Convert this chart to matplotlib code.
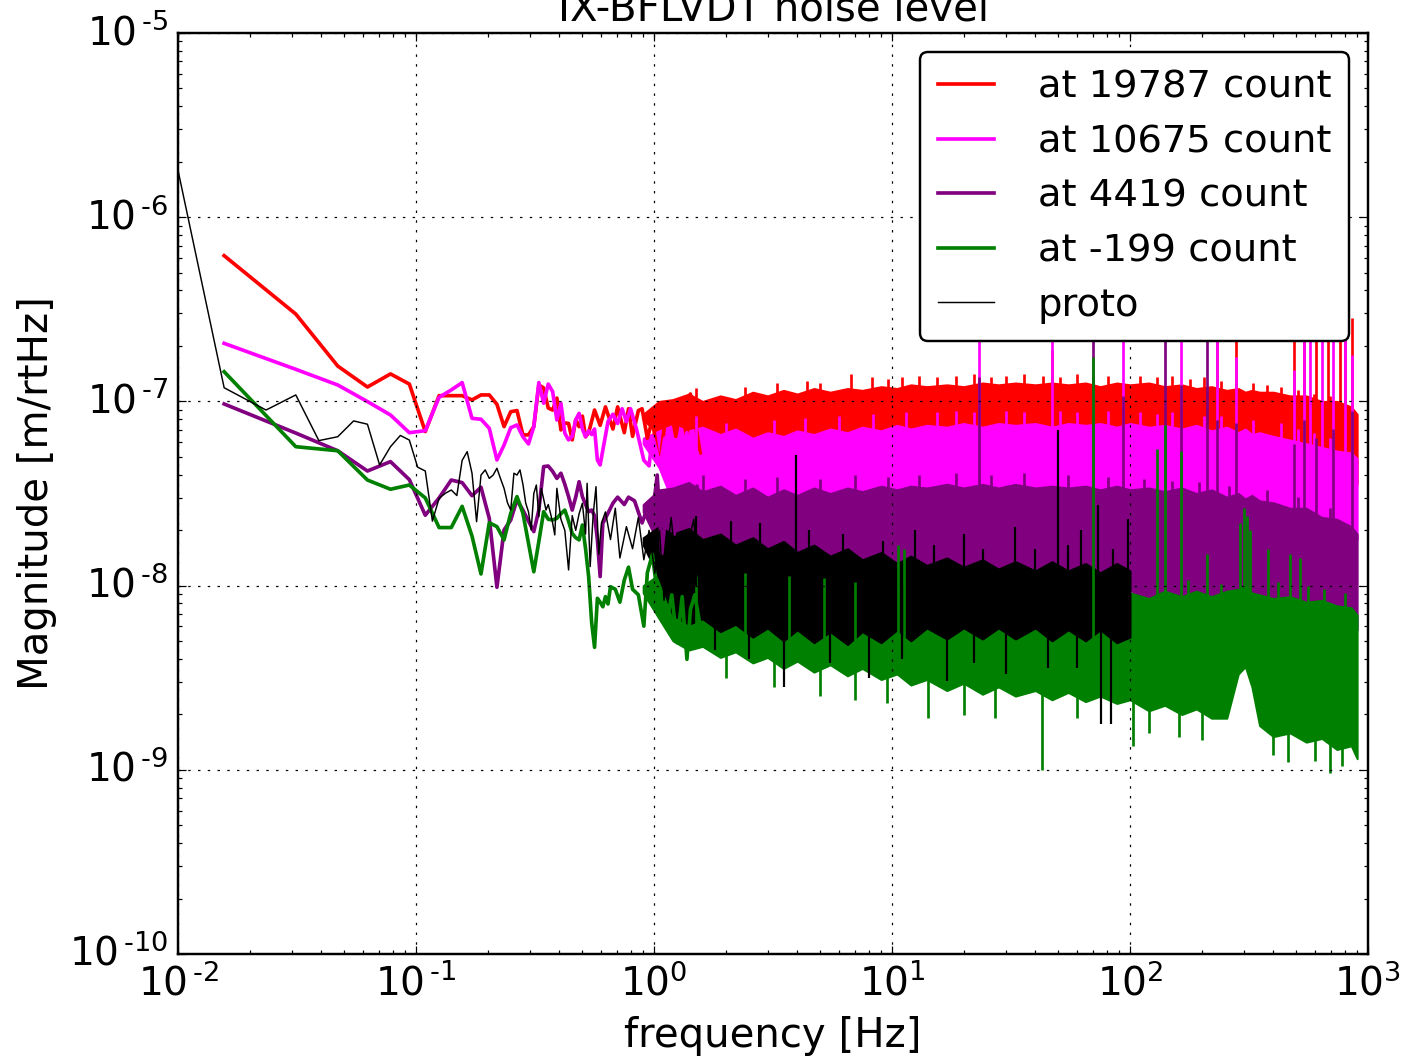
import numpy as np
import matplotlib
matplotlib.use("Agg")
import matplotlib.pyplot as plt
from matplotlib.ticker import FuncFormatter, NullFormatter

plt.style.use('classic')
plt.rcParams['font.family'] = ['DejaVu Sans']
plt.rcParams['font.size'] = 16
plt.rcParams['mathtext.fontset'] = 'dejavusans'

# FFT bin widths (Hz)
DF = 1.0 / 64
DF_PROTO = 1.0 / 128

# --- low frequency part: bin index -> log10 magnitude [m/rtHz] ---
red_bin = list(range(1, 35)) + [36, 38, 40, 43, 45, 48, 50, 52, 55, 57, 60,
                                63, 66, 68, 71, 75, 79, 83, 88, 91, 95, 100]
red_lg = [-6.209, -6.526, -6.808, -6.922, -6.851, -6.906, -7.164, -6.969, -6.969, -6.969,
          -6.992, -6.965, -6.965, -7.016, -7.137, -7.056, -7.050, -7.182, -7.182, -7.137,
          -6.911, -6.927, -7.036, -7.047, -6.982, -7.155, -7.117, -7.120, -7.209, -7.100,
          -7.137, -7.080, -7.192, -7.170,
          -7.047, -7.13, -7.03, -7.15, -7.03, -7.17, -7.04, -7.19, -7.05, -7.04, -7.20,
          -7.10, -7.28, -7.32, -7.12, -7.03, -7.19, -7.02, -7.20, -6.96, -7.10, -7.28]

mag_bin = list(range(1, 39)) + [41, 43, 45, 47, 49, 51, 54, 58, 61, 63, 68,
                                71, 75, 80, 83, 88, 91, 95, 100]
mag_lg = [-6.685, -6.826, -6.911, -7.001, -7.074, -7.170, -7.159, -6.978, -6.938, -6.898,
          -7.092, -7.097, -7.146, -7.318, -7.237, -7.143, -7.128, -7.192, -7.231, -7.137,
          -6.898, -7.010, -6.906, -6.947, -7.101, -7.010, -7.173, -7.209, -7.190, -7.100,
          -7.065, -7.150, -7.192, -7.160, -7.180, -7.150, -7.318, -7.345,
          -7.11, -7.07, -7.12, -7.04, -7.11, -7.04, -7.15, -7.32, -7.35, -7.19, -7.35,
          -7.20, -7.21, -7.445, -7.28, -7.17, -7.41, -7.25, -7.32]

pur_bin = list(range(1, 40)) + [41, 43, 45, 48, 50, 53, 57, 60, 63, 66, 69,
                                72, 74, 78, 80, 84, 88, 92, 97, 100]
pur_lg = [-7.014, -7.172, -7.268, -7.378, -7.327, -7.425, -7.618, -7.524, -7.427, -7.441,
          -7.512, -7.466, -7.635, -8.009, -7.698, -7.644, -7.535, -7.590, -7.650, -7.707,
          -7.590, -7.354, -7.351, -7.380, -7.418, -7.390, -7.450, -7.517, -7.590, -7.520,
          -7.436, -7.517, -7.560, -7.599, -7.590, -7.620, -7.750, -7.951, -7.662,
          -7.607, -7.553, -7.52, -7.56, -7.52, -7.54, -7.66, -7.58, -7.62, -7.40, -7.825,
          -7.59, -7.53, -7.72, -7.50, -7.63, -7.60, -7.68, -7.46, -7.65]

grn_bin = list(range(1, 43)) + [44, 46, 48, 50, 52, 55, 58, 60, 63, 66, 68,
                                70, 73, 76, 80, 84, 88, 91, 95, 100]
grn_lg = [-6.839, -7.246, -7.268, -7.427, -7.477, -7.454, -7.524, -7.685, -7.685, -7.570,
          -7.731, -7.937, -7.659, -7.680, -7.752, -7.607, -7.517, -7.607, -7.770, -7.925,
          -7.760, -7.599, -7.640, -7.644, -7.635, -7.610, -7.590, -7.650, -7.717, -7.740,
          -7.752, -7.671, -7.800, -7.951, -8.200, -8.335, -8.069, -8.090, -8.115, -8.060,
          -8.100, -8.006,
          -8.02, -8.09, -7.97, -7.90, -8.02, -8.05, -8.22, -7.93, -7.83, -8.04, -8.15,
          -8.08, -8.17, -8.05, -8.31, -8.06, -8.40, -8.13, -8.05, -8.22]

pro_bin = list(range(1, 51)) + [52, 54, 56, 58, 60, 62, 64, 66, 67, 69, 71, 73, 75, 77,
                                80, 84, 88, 92, 98, 104, 110, 116, 122, 129, 135, 141,
                                146, 151, 158, 164, 170, 176, 182, 188, 196]
pro_lg = [-5.093, -6.926, -7.047, -6.965, -7.213, -7.192, -7.106, -7.124, -7.345, -7.246,
          -7.185, -7.210, -7.357, -7.378, -7.650, -7.526, -7.499, -7.481, -7.511, -7.320,
          -7.273, -7.390, -7.653, -7.400, -7.372, -7.418, -7.400, -7.363, -7.420, -7.472,
          -7.550, -7.590, -7.390, -7.400, -7.372, -7.450, -7.553, -7.600, -7.698, -7.500,
          -7.454, -7.626, -7.472, -7.530, -7.590, -7.560, -7.607, -7.660, -7.725, -7.472,
          -7.64, -7.70, -7.915, -7.62, -7.70, -7.61, -7.553, -7.72, -7.445, -7.897,
          -7.62, -7.463, -7.83, -7.66, -7.60, -7.75, -7.58, -7.85, -7.68, -7.80,
          -7.63, -7.86, -7.70, -7.93, -7.70, -8.08, -7.80, -7.63, -7.88, -8.04,
          -7.75, -7.90, -7.72, -7.64, -7.95]

# --- dense part above ~1 Hz: envelope of the noise floor (log10) ---
band_f = [0.9, 1.05, 1.2, 1.4, 1.6, 1.9, 2.2, 2.6, 3.0, 3.5, 4.0, 4.7,
          5.5, 6.5, 7.5, 9, 10.5, 12, 14, 17, 20, 24,
          28, 33, 40, 47, 55, 65, 75, 88, 100, 120,
          140, 165, 190, 220, 255, 285, 305, 325, 350, 400,
          470, 550, 640, 740, 850, 900]

red_hi = [-7.07, -7.00,
          -6.99, -6.96, -7.00, -6.97, -6.99, -6.95, -6.97, -6.94, -6.96, -6.93,
          -6.95, -6.93, -6.94, -6.92, -6.93, -6.91, -6.92, -6.91, -6.92, -6.90,
          -6.91, -6.90, -6.91, -6.90, -6.91, -6.90, -6.92, -6.90, -6.91, -6.90,
          -6.92, -6.91, -6.93, -6.92, -6.94, -6.93, -6.95, -6.94, -6.95, -6.95,
          -6.97, -6.97, -7.00, -7.00, -7.03, -7.07]
red_lo = [-7.10, -7.18,
          -7.30, -7.27, -7.32, -7.29, -7.34, -7.30, -7.35, -7.31, -7.33, -7.30,
          -7.32, -7.29, -7.31, -7.28, -7.30, -7.27, -7.29, -7.27, -7.29, -7.27,
          -7.28, -7.27, -7.29, -7.27, -7.28, -7.27, -7.29, -7.27, -7.28, -7.27,
          -7.29, -7.28, -7.30, -7.29, -7.32, -7.30, -7.33, -7.31, -7.33, -7.32,
          -7.36, -7.35, -7.40, -7.38, -7.42, -7.45]

mag_hi = [-7.20, -7.16,
          -7.13, -7.16, -7.14, -7.18, -7.15, -7.20, -7.17, -7.19, -7.16, -7.18,
          -7.15, -7.17, -7.14, -7.16, -7.13, -7.15, -7.13, -7.14, -7.12, -7.14,
          -7.12, -7.13, -7.12, -7.14, -7.12, -7.13, -7.12, -7.14, -7.12, -7.14,
          -7.13, -7.15, -7.13, -7.16, -7.14, -7.17, -7.15, -7.18, -7.17, -7.19,
          -7.21, -7.23, -7.25, -7.27, -7.28, -7.31]
mag_lo = [-7.23, -7.36,
          -7.55, -7.51, -7.57, -7.53, -7.59, -7.54, -7.57, -7.53, -7.56, -7.52,
          -7.54, -7.51, -7.53, -7.50, -7.52, -7.49, -7.51, -7.49, -7.51, -7.49,
          -7.50, -7.49, -7.51, -7.49, -7.50, -7.49, -7.51, -7.49, -7.51, -7.50,
          -7.52, -7.50, -7.53, -7.51, -7.55, -7.52, -7.56, -7.53, -7.57, -7.58,
          -7.62, -7.63, -7.68, -7.68, -7.72, -7.75]

pur_hi = [-7.56, -7.48,
          -7.47, -7.44, -7.49, -7.46, -7.51, -7.47, -7.52, -7.48, -7.51, -7.47,
          -7.50, -7.47, -7.49, -7.46, -7.48, -7.46, -7.47, -7.45, -7.47, -7.45,
          -7.47, -7.45, -7.47, -7.46, -7.47, -7.46, -7.48, -7.46, -7.48, -7.47,
          -7.49, -7.47, -7.50, -7.48, -7.52, -7.50, -7.53, -7.51, -7.54, -7.55,
          -7.58, -7.58, -7.63, -7.64, -7.68, -7.72]
pur_lo = [-7.60, -7.78,
          -7.98, -7.95, -8.01, -7.97, -8.02, -7.98, -8.03, -7.98, -8.01, -7.97,
          -8.00, -7.97, -7.99, -7.96, -7.99, -7.96, -7.98, -7.96, -7.98, -7.96,
          -7.98, -7.96, -7.98, -7.96, -7.99, -7.97, -7.99, -7.98, -8.02, -8.12,
          -8.15, -8.13, -8.16, -8.14, -8.17, -8.15, -8.17, -8.16, -8.18, -8.17,
          -8.19, -8.18, -8.20, -8.20, -8.22, -8.24]

grn_hi = [-8.00, -7.94,
          -7.93, -7.97, -7.95, -8.01, -7.97, -8.03, -7.99, -8.04, -8.00, -8.05,
          -8.01, -8.06, -8.03, -8.08, -8.05, -8.10, -8.07, -8.12, -8.08, -8.13,
          -8.09, -8.12, -8.08, -8.11, -8.07, -8.10, -8.06, -8.09, -8.04, -8.07,
          -8.03, -8.06, -8.03, -8.06, -8.03, -8.02, -8.00, -8.04, -8.05, -8.07,
          -8.06, -8.09, -8.08, -8.11, -8.12, -8.16]
grn_lo = [-8.04, -8.18,
          -8.30, -8.35, -8.33, -8.39, -8.36, -8.42, -8.39, -8.45, -8.41, -8.47,
          -8.43, -8.49, -8.45, -8.51, -8.48, -8.54, -8.51, -8.57, -8.53, -8.59,
          -8.55, -8.60, -8.57, -8.62, -8.58, -8.63, -8.60, -8.64, -8.62, -8.68,
          -8.65, -8.70, -8.67, -8.72, -8.72, -8.48, -8.44, -8.55, -8.76, -8.82,
          -8.80, -8.85, -8.83, -8.89, -8.87, -8.94]

# proto was only measured up to 100 Hz (first 31 knots)
pro_hi = [-7.74, -7.68,
          -7.72, -7.69, -7.75, -7.72, -7.78, -7.74, -7.80, -7.76, -7.82, -7.78,
          -7.84, -7.80, -7.86, -7.82, -7.88, -7.84, -7.89, -7.85, -7.90, -7.86,
          -7.91, -7.87, -7.92, -7.87, -7.92, -7.88, -7.93, -7.88, -7.92]
pro_lo = [-7.78, -7.96,
          -8.16, -8.21, -8.18, -8.25, -8.21, -8.28, -8.23, -8.30, -8.24, -8.31,
          -8.25, -8.32, -8.25, -8.31, -8.24, -8.30, -8.23, -8.29, -8.23, -8.29,
          -8.23, -8.29, -8.23, -8.30, -8.24, -8.30, -8.24, -8.31, -8.28]

# --- narrow peaks (Hz, log10 top) and deep dips (Hz, log10 bottom) ---
red_spk_f = [1.5, 2.4, 3.3, 4.4, 5.0, 6.7, 8.2, 9.6, 11, 13, 15.5, 18.5, 22, 26, 30, 36,
             43, 47.0, 51, 60, 70, 81, 110, 130, 150, 178, 205, 232.1, 240, 278.8, 330,
             375, 430, 488.8, 510, 538.4, 590, 604.6, 679.2, 690, 762.9, 800.6, 856.6]
red_spk_lg = [-6.93, -6.92, -6.90, -6.89, -6.90, -6.85, -6.87, -6.88, -6.87, -6.86, -6.87,
              -6.86, -6.85, -6.87, -6.86, -6.85, -6.86, -6.72, -6.87, -6.85, -6.87, -6.86,
              -6.86, -6.87, -6.86, -6.88, -6.87, -6.45, -6.89, -6.40, -6.90, -6.91, -6.92,
              -6.40, -6.94, -6.40, -6.96, -6.45, -6.40, -6.97, -6.45, -6.40, -6.55]
mag_spk_f = [1.5, 2.0, 3.2, 4.3, 6.0, 8.3, 11.5, 15.5, 18.5, 22, 23.2, 30, 36, 47.0, 51,
             60, 81, 93.5, 110, 130, 150, 163.8, 205, 232.1, 240, 278.8, 330, 430,
             488.8, 510, 538.4, 570.6, 590, 640.7, 690, 712.8, 800.6, 856.6]
mag_spk_lg = [-7.08, -7.12, -7.10, -7.09, -7.08, -7.07, -7.06, -7.06, -7.05, -7.06, -6.40,
              -7.05, -7.06, -6.40, -7.05, -7.06, -7.05, -6.40, -7.06, -7.07, -7.06, -6.40,
              -7.08, -6.45, -7.08, -6.76, -7.10, -7.12, -6.83, -7.15, -6.45, -6.50, -7.17,
              -6.50, -7.20, -6.45, -6.55, -6.75]
pur_spk_f = [1.6, 2.4, 3.3, 5.0, 7.0, 9.6, 13, 18.5, 23.2, 26, 36, 55, 69.9, 81, 93.5,
             115, 140.3, 150, 163.8, 195, 210.7, 232.1, 260, 278.8, 375, 488.8, 510,
             538.4, 604.6, 690, 712.8, 856.6]
pur_spk_lg = [-7.40, -7.42, -7.41, -7.42, -7.40, -7.41, -7.40, -7.39, -6.87, -7.40, -7.39,
              -7.40, -6.40, -7.41, -6.97, -7.42, -6.40, -7.43, -6.91, -7.44, -6.40, -7.10,
              -7.46, -7.12, -7.48, -7.23, -7.52, -7.10, -7.20, -7.58, -7.15, -7.05]
grn_spk_f = [1.5, 2.4, 3.7, 5.2, 7.0, 10.6, 11.2, 69.9, 129.9, 140.3, 163.8, 175, 210.0,
             240, 290, 300, 310, 320, 380.0, 420, 470.0, 520.0, 560, 650, 800]
grn_spk_lg = [-7.88, -7.93, -7.95, -7.96, -7.98, -7.78, -7.80, -6.76, -7.26, -7.13, -7.27,
              -7.97, -7.83, -7.99, -7.66, -7.58, -7.62, -7.70, -7.80, -7.98, -7.83, -7.85,
              -8.00, -8.02, -8.04]
grn_dip_f = [2.0, 3.2, 5.0, 7.0, 9.5, 14.2, 20, 27, 42.7, 60, 103.0, 120, 160, 200, 400,
             460, 600, 692.0, 780]
grn_dip_lg = [-8.50, -8.55, -8.60, -8.62, -8.64, -8.72, -8.70, -8.72, -9.00, -8.72, -8.87,
              -8.80, -8.82, -8.84, -8.92, -8.96, -8.95, -9.02, -8.98]
pro_spk_f = [1.5, 2.1, 2.8, 3.95, 4.5, 6.2, 9.2, 12.5, 15, 20.0, 24, 33.0, 40, 49.8, 55,
             62.0, 73.4, 85, 98.0]
pro_spk_lg = [-7.62, -7.65, -7.66, -7.29, -7.70, -7.72, -7.76, -7.70, -7.78, -7.72, -7.80,
              -7.68, -7.80, -7.155, -7.78, -7.70, -7.56, -7.80, -7.64]
pro_dip_f = [1.8, 2.5, 3.5, 5.5, 8.0, 11, 17.0, 22, 30.0, 45, 60, 75.7, 83.4]
pro_dip_lg = [-8.35, -8.40, -8.55, -8.42, -8.50, -8.40, -8.52, -8.42, -8.48, -8.45, -8.45,
              -8.75, -8.75]

labels = ['at 19787 count', 'at 10675 count', 'at 4419 count', 'at -199 count', 'proto']


def pow10_label(v, pos):
    # old-style decade labels with a plain hyphen in the exponent
    e = int(round(np.log10(v)))
    if e < 0:
        return r'$\mathdefault{10^{\,\text{-}%d}}$' % (-e)
    return r'$\mathdefault{10^{%d}}$' % e


fig = plt.figure(figsize=(8, 6.0356), facecolor='white')
ax = fig.add_axes([0.1267, 0.1, 0.847, 0.8689])
ax.set_xscale('log')
ax.set_yscale('log')

bf = np.array(band_f)
series = [
    (red_bin, red_lg, DF, 'red', 1.5, red_hi, red_lo, red_spk_f, red_spk_lg, [], [], -7.1),
    (mag_bin, mag_lg, DF, 'magenta', 1.5, mag_hi, mag_lo, mag_spk_f, mag_spk_lg, [], [], -7.3),
    (pur_bin, pur_lg, DF, 'purple', 1.5, pur_hi, pur_lo, pur_spk_f, pur_spk_lg, [], [], -7.7),
    (grn_bin, grn_lg, DF, 'green', 1.5, grn_hi, grn_lo, grn_spk_f, grn_spk_lg, grn_dip_f, grn_dip_lg, -8.3),
    (pro_bin, pro_lg, DF_PROTO, 'black', 0.6, pro_hi, pro_lo, pro_spk_f, pro_spk_lg, pro_dip_f, pro_dip_lg, -8.0),
]

handles = []
for (bins, lg, df, c, lw, hi, lo, sf, sl, dfq, dl, base), lab in zip(series, labels):
    f = np.array(bins) * df
    h, = ax.plot(f, 10 ** np.array(lg), color=c, lw=lw, label=lab)
    handles.append(h)
    fk = bf[:len(hi)]
    ax.fill_between(fk, 10 ** np.array(lo), 10 ** np.array(hi),
                    facecolor=c, edgecolor=c, lw=0.8)
    slw = 1.1 if lw > 1 else 0.9
    if sf:
        ax.vlines(sf, 10 ** base, 10 ** np.array(sl), color=c, lw=slw)
    if dfq:
        ax.vlines(dfq, 10 ** np.array(dl), 10 ** base, color=c, lw=slw)

ax.set_xlim(1e-2, 1e3)
ax.set_ylim(1e-10, 1e-5)
ax.grid(True)
for axis in (ax.xaxis, ax.yaxis):
    axis.set_major_formatter(FuncFormatter(pow10_label))
    axis.set_minor_formatter(NullFormatter())
ax.tick_params(which='major', length=3.2)
ax.tick_params(which='minor', length=1.8)

ax.set_xlabel('frequency [Hz]', fontsize=16.5)
ax.set_ylabel('Magnitude [m/rtHz]', fontsize=16.5)
ax.set_title('IX-BFLVDT noise level', fontsize=16.5)

ax.legend(handles=handles, loc='upper right', fontsize=15.8, fancybox=True,
          framealpha=1, handlelength=1.45, handletextpad=1.15,
          borderpad=0.45, labelspacing=0.48, numpoints=1)

fig.savefig('out.png', dpi=175.625, facecolor='white')
